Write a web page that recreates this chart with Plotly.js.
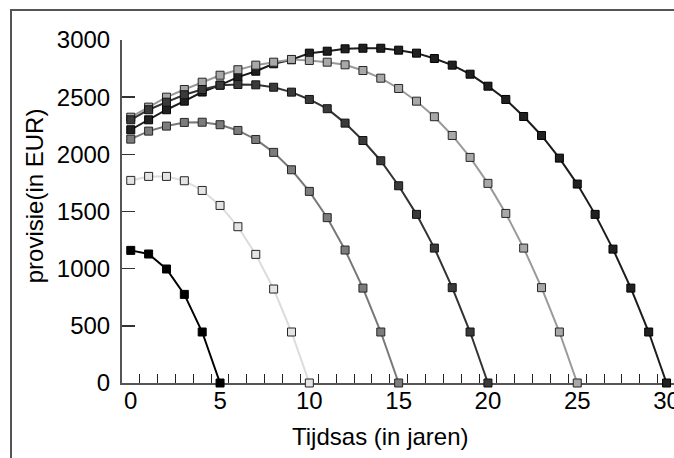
<!DOCTYPE html>
<html>
<head>
<meta charset="utf-8">
<script src="https://cdn.plot.ly/plotly-3.0.1.min.js"></script>
<style>
  html, body { margin: 0; padding: 0; overflow: hidden; background: #fff; width: 674px; height: 458px; }
  #frame { position: absolute; left: 10px; top: 9px; border: 2px solid #555; width: 700px; height: 480px; }
  #chart { position: absolute; left: 0; top: 0; width: 680px; height: 462px; }
</style>
</head>
<body>
<div id="frame"><div id="chart"></div></div>
<script>
// Years on the time axis
const jaren = [0,1,2,3,4,5,6,7,8,9,10,11,12,13,14,15,16,17,18,19,20,21,22,23,24,25,26,27,28,29,30];
const xTickVals = [0, 5, 10, 15, 20, 25, 30];
const xTickText = ['0', '5', '10', '15', '20', '25', '30'];
const yTickVals = [0, 500, 1000, 1500, 2000, 2500, 3000];
const yTickText = ['0', '500', '1000', '1500', '2000', '2500', '3000'];

// provisie (EUR) per looptijd
const provisie5  = [1160, 1128, 997, 775, 446, 0];
const provisie10 = [1772, 1807, 1807, 1769, 1684, 1553, 1367, 1125, 822, 446, 0];
const provisie15 = [2133, 2203, 2247, 2279, 2281, 2259, 2209, 2130, 2017, 1865, 1676, 1446, 1163, 830, 446, 0];
const provisie20 = [2302, 2390, 2456, 2521, 2567, 2605, 2611, 2608, 2587, 2544, 2480, 2399, 2273, 2121, 1944, 1725, 1475, 1180, 834, 446, 0];
const provisie25 = [2325, 2413, 2500, 2567, 2631, 2692, 2740, 2780, 2806, 2830, 2821, 2806, 2783, 2733, 2666, 2576, 2465, 2329, 2165, 1973, 1746, 1483, 1180, 834, 446, 0];
const provisie30 = [2215, 2302, 2390, 2465, 2545, 2605, 2675, 2727, 2792, 2827, 2885, 2902, 2923, 2928, 2928, 2911, 2885, 2838, 2780, 2701, 2596, 2480, 2331, 2165, 1967, 1740, 1475, 1171, 830, 446, 0];

const series = [
  { y: provisie30, line: '#1c1c1c', fill: '#202020', edge: '#000000' },
  { y: provisie25, line: '#9a9a9a', fill: '#a8a8a8', edge: '#262626' },
  { y: provisie20, line: '#333333', fill: '#3a3a3a', edge: '#111111' },
  { y: provisie15, line: '#787878', fill: '#7c7c7c', edge: '#262626' },
  { y: provisie10, line: '#dcdcdc', fill: '#e4e4e4', edge: '#262626' },
  { y: provisie5,  line: '#000000', fill: '#000000', edge: '#000000' }
];

const traces = series.map(s => ({
  type: 'scatter',
  mode: 'lines+markers',
  x: jaren.slice(0, s.y.length),
  y: s.y,
  cliponaxis: false,
  line: { color: s.line, width: 2 },
  marker: { symbol: 'square', size: 8, color: s.fill, line: { color: s.edge, width: 1 } },
  hoverinfo: 'x+y'
}));

const plotW = 570;
const xMin = -0.49;
const pxPerYear = 17.86;

const layout = {
  width: 680,
  height: 462,
  margin: { l: 110, r: 0, t: 29, b: 90 },
  paper_bgcolor: '#ffffff',
  plot_bgcolor: '#ffffff',
  showlegend: false,
  font: { family: 'Liberation Sans, Arial, sans-serif', size: 24, color: '#000' },
  xaxis: {
    range: [xMin, xMin + plotW / pxPerYear],
    tickvals: xTickVals,
    ticktext: xTickText,
    ticks: '',
    showgrid: false,
    zeroline: false,
    showline: true,
    linecolor: '#555',
    linewidth: 2,
    layer: 'below traces',
    ticklabelstandoff: -5,
    tickfont: { size: 24, color: '#000' },
    minor: { ticks: 'inside', tick0: 0.5, dtick: 1, ticklen: 9, tickcolor: '#222', tickwidth: 1, showgrid: false }
  },
  yaxis: {
    range: [0, 3000],
    tickvals: yTickVals,
    ticktext: yTickText,
    ticks: 'inside',
    ticklen: 13,
    tickwidth: 1.5,
    tickcolor: '#333',
    showgrid: false,
    zeroline: false,
    showline: true,
    linecolor: '#555',
    linewidth: 2,
    layer: 'below traces',
    ticklabelstandoff: 5,
    tickfont: { size: 24, color: '#000' }
  },
  annotations: [
    { text: 'Tijdsas (in jaren)', xref: 'paper', yref: 'paper', x: 0.454, y: -0.157,
      xanchor: 'center', yanchor: 'middle', showarrow: false, font: { size: 24, color: '#000' } },
    { text: 'provisie(in EUR)', xref: 'paper', yref: 'paper', x: -0.154, y: 0.545, textangle: -90,
      xanchor: 'center', yanchor: 'middle', showarrow: false, font: { size: 24, color: '#000' } }
  ]
};

Plotly.newPlot('chart', traces, layout, { staticPlot: true, displayModeBar: false });
</script>
</body>
</html>
